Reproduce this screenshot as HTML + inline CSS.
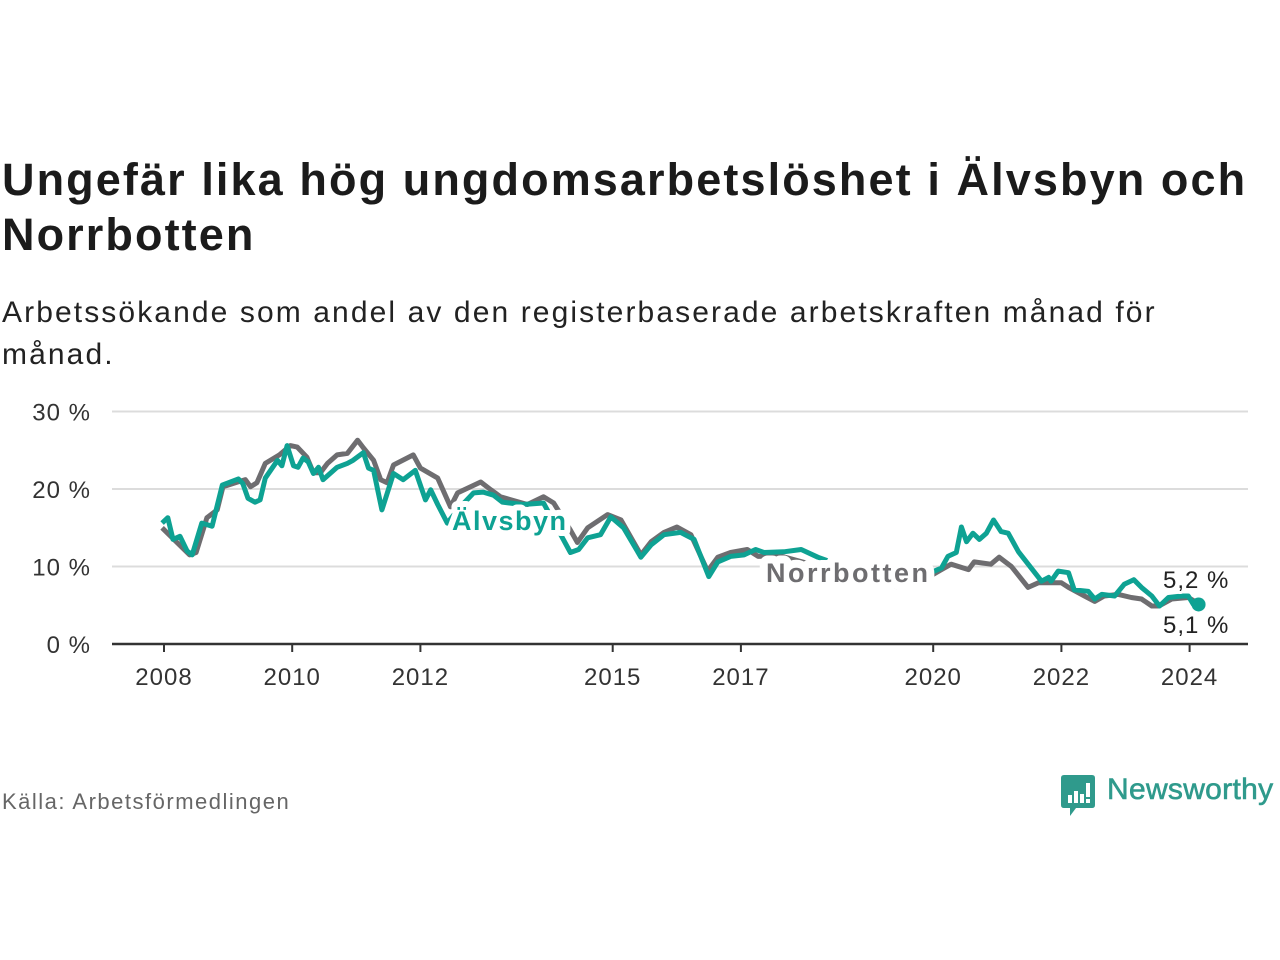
<!DOCTYPE html>
<html><head><meta charset="utf-8"><style>
body{margin:0;background:#fff;width:1280px;height:960px;overflow:hidden;font-family:"Liberation Sans","DejaVu Sans",sans-serif;}
.title{position:absolute;left:2px;top:152px;font-size:45px;font-weight:bold;color:#1b1b1b;line-height:55px;white-space:nowrap;letter-spacing:2.1px}
.sub{position:absolute;left:2px;top:292px;font-size:30px;color:#222;line-height:42px;white-space:nowrap;letter-spacing:2.1px}
.src{position:absolute;left:2px;top:789px;font-size:22px;color:#666;letter-spacing:1.5px}
</style></head><body>
<div class="title">Ungefär lika hög ungdomsarbetslöshet i Älvsbyn och<br>Norrbotten</div>
<div class="sub">Arbetssökande som andel av den registerbaserade arbetskraften månad för<br>månad.</div>
<svg id="chart" width="1280" height="960" style="position:absolute;left:0;top:0" xmlns="http://www.w3.org/2000/svg"></svg>
<div class="src">Källa: Arbetsförmedlingen</div>
<div style="position:absolute;left:1060px;top:775px;">
<svg width="36" height="44"><path d="M1 3 Q1 0 4 0 L32 0 Q35 0 35 3 L35 30 Q35 33 32 33 L16 33 L10 41 L10 33 L4 33 Q1 33 1 30 Z" fill="#2f9a8c"/><rect x="8" y="20" width="4" height="8" fill="#fff"/><rect x="14" y="16" width="4" height="12" fill="#fff"/><rect x="20" y="19" width="4" height="9" fill="#fff"/><rect x="26" y="8" width="4" height="14" fill="#fff"/><rect x="26" y="24" width="4" height="4" fill="#fff"/></svg>
<span style="position:absolute;left:47px;top:-2px;font-size:30px;color:#2f9a8c;white-space:nowrap;letter-spacing:0.3px;-webkit-text-stroke:0.6px #2f9a8c;">Newsworthy</span>
</div>
<script>
const yTicks=[0,10,20,30];
const xTickYears=[2008,2010,2012,2015,2017,2020,2022,2024];
const grayX=[2007.97,2008.4,2008.5,2008.67,2008.83,2008.92,2009.15,2009.27,2009.35,2009.45,2009.58,2009.8,2009.97,2010.08,2010.23,2010.33,2010.44,2010.55,2010.7,2010.86,2011.02,2011.11,2011.27,2011.38,2011.48,2011.58,2011.89,2012.0,2012.27,2012.47,2012.58,2012.94,2013.1,2013.25,2013.67,2013.92,2014.08,2014.34,2014.45,2014.61,2014.92,2015.13,2015.44,2015.6,2015.8,2016.0,2016.22,2016.48,2016.64,2016.84,2017.1,2017.27,2017.6,2018.0,2018.5,2019.0,2019.5,2019.9,2020.13,2020.28,2020.55,2020.64,2020.9,2021.03,2021.22,2021.48,2021.64,2022.0,2022.11,2022.36,2022.52,2022.67,2022.89,2023.09,2023.25,2023.41,2023.52,2023.72,2023.98,2024.14];
const grayV=[15.0,11.5,11.8,16.3,17.3,20.3,20.9,21.2,20.3,20.8,23.3,24.4,25.6,25.4,24.1,22.1,22.1,23.3,24.4,24.6,26.3,25.3,23.7,21.2,20.8,23.1,24.4,22.7,21.4,17.7,19.5,20.9,19.9,19.0,18.0,19.0,18.2,14.7,13.1,15.0,16.7,16.0,11.5,13.2,14.4,15.1,14.1,9.4,11.2,11.8,12.2,11.3,11.4,10.5,9.0,8.0,7.3,8.5,9.6,10.3,9.6,10.6,10.3,11.2,10.0,7.3,7.9,7.9,7.3,6.2,5.5,6.2,6.4,6.0,5.8,4.9,4.9,5.8,6.0,5.2];
const tealX=[2007.97,2008.06,2008.14,2008.25,2008.36,2008.44,2008.59,2008.75,2008.91,2009.16,2009.23,2009.31,2009.42,2009.5,2009.58,2009.77,2009.84,2009.92,2010.02,2010.09,2010.17,2010.25,2010.33,2010.41,2010.48,2010.7,2010.86,2010.95,2011.11,2011.19,2011.27,2011.4,2011.58,2011.73,2011.92,2012.08,2012.16,2012.27,2012.42,2012.6,2012.83,2012.98,2013.14,2013.28,2013.6,2013.92,2014.23,2014.34,2014.47,2014.61,2014.81,2014.97,2015.17,2015.44,2015.6,2015.8,2016.06,2016.27,2016.5,2016.64,2016.84,2017.05,2017.23,2017.36,2017.67,2017.94,2018.2,2018.6,2019.0,2019.5,2019.9,2020.13,2020.23,2020.36,2020.44,2020.52,2020.62,2020.72,2020.83,2020.94,2021.06,2021.17,2021.33,2021.69,2021.8,2021.84,2021.95,2022.11,2022.2,2022.42,2022.52,2022.63,2022.83,2022.98,2023.13,2023.25,2023.41,2023.53,2023.67,2023.88,2023.98,2024.06,2024.14];
const tealV=[15.6,16.3,13.5,13.9,12.0,11.5,15.6,15.2,20.5,21.3,20.7,18.8,18.3,18.6,21.4,23.7,23.0,25.6,23.0,22.8,24.0,23.5,22.0,22.8,21.2,22.8,23.3,23.7,24.7,22.7,22.4,17.3,22.0,21.2,22.4,18.6,19.9,18.0,15.6,17.5,19.5,19.6,19.2,18.3,18.0,18.2,13.5,11.8,12.2,13.7,14.1,16.4,15.0,11.2,12.8,14.1,14.4,13.5,8.7,10.6,11.3,11.5,12.2,11.8,11.9,12.2,11.2,10.0,9.0,8.0,9.0,9.8,11.3,11.8,15.1,13.2,14.3,13.5,14.3,16.0,14.5,14.3,11.9,8.1,8.6,8.1,9.4,9.2,7.0,6.8,5.8,6.4,6.2,7.7,8.3,7.3,6.2,4.9,6.0,6.2,6.2,5.1,5.1];
const NS='http://www.w3.org/2000/svg';
const svg=document.getElementById('chart');
const X=yr=>164+(yr-2008)*64.1;
const Y=v=>644-v*7.75;
function mk(t,a,parent){const e=document.createElementNS(NS,t);for(const k in a)e.setAttribute(k,a[k]);(parent||svg).appendChild(e);return e;}
yTicks.forEach(t=>{
  if(t>0){const g=mk('line',{x1:112,x2:1248,y1:Y(t),y2:Y(t),stroke:'#dcdcdc','stroke-width':2});
  
  }
  const l=mk('text',{x:91,y:Y(t)+9,'text-anchor':'end','font-size':24,fill:'#333','letter-spacing':1});l.textContent=t+' %';
  
  
});
const ax=mk('line',{x1:112,x2:1248,y1:644,y2:644,stroke:'#333','stroke-width':2.5});


xTickYears.forEach(yr=>{
  const tk=mk('line',{x1:X(yr),x2:X(yr),y1:644,y2:652,stroke:'#333','stroke-width':2});
  
  
  const l=mk('text',{x:X(yr),y:685,'text-anchor':'middle','font-size':24,fill:'#333','letter-spacing':1});l.textContent=yr;
  
  
});
function line(xs,vs,col,name){
  const d=xs.map((x,i)=>(i?'L':'M')+X(x).toFixed(1)+' '+Y(vs[i]).toFixed(1)).join(' ');
  const p=mk('path',{d:d,fill:'none',stroke:col,'stroke-width':5,'stroke-linejoin':'round'});
  
  
}
line(grayX,grayV,'#6e6d70','norrbotten-line');
line(tealX,tealV,'#0ea293','alvsbyn-line');
const dot=mk('circle',{cx:X(tealX[tealX.length-1]),cy:Y(tealV[tealV.length-1]),r:7,fill:'#0ea293'});


function label(txt,x,y,col,name,size,bold,halo,ls){
  const t=mk('text',{x:x,y:y,'font-size':size,'font-weight':bold?'bold':'normal',fill:col,stroke:'#fff','stroke-width':halo,'paint-order':'stroke','stroke-linejoin':'round','letter-spacing':ls});
  t.textContent=txt;
  
  
}
label('Älvsbyn',452,530,'#0ea293','alvsbyn-label',27,true,12,1.5);
label('Norrbotten',766,582,'#6e6d70','norrbotten-label',27,true,16,2.5);
label('5,2 %',1163,588,'#222','norrbotten-end-value',24,false,6,1);
label('5,1 %',1163,633,'#222','alvsbyn-end-value',24,false,6,1);
</script>
</body></html>
